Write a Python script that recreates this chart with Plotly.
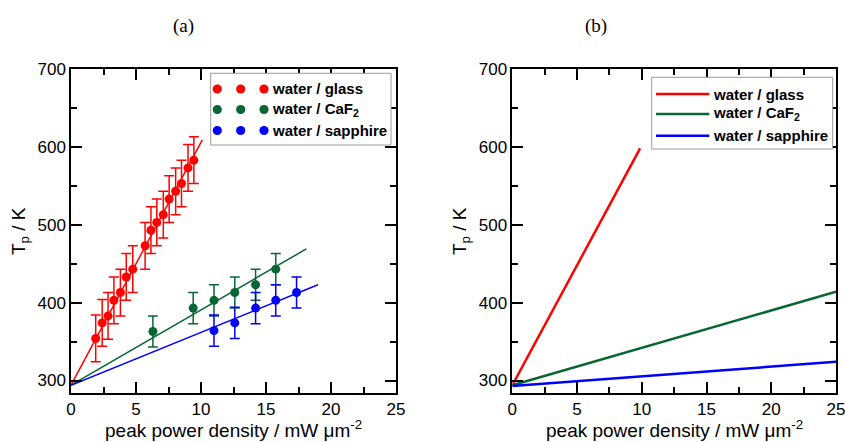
import plotly.graph_objects as go

W, H = 845, 442

# ---------------- data (panel a: measured points) ----------------
glass_x = [1.9, 2.4, 2.85, 3.3, 3.8, 4.25, 4.75, 5.7, 6.15, 6.6, 7.1, 7.55, 8.05, 8.5, 9.0, 9.45]
glass_T = [354, 374, 383, 403, 413, 433, 443, 473, 493, 503, 513, 533, 543, 553, 573, 583]
glass_err = [30] * len(glass_x)

caf2_x = [6.3, 9.4, 11.0, 12.6, 14.2, 15.75]
caf2_T = [363, 393, 403, 413, 423, 443]
caf2_err = [20] * len(caf2_x)

sapph_x = [11.0, 12.6, 14.2, 15.75, 17.35]
sapph_T = [364, 374, 393, 403, 413]
sapph_err = [20] * len(sapph_x)

# fit lines (panel a)
glass_fit_x = [0, 10.1]
glass_fit_T = [294, 609]
caf2_fit_x = [0, 18.1]
caf2_fit_T = [294, 469]
sapph_fit_x = [0, 19.0]
sapph_fit_T = [294, 423]

# ---------------- data (panel b: calculated lines) ----------------
glass_calc_x = [0, 9.87]
glass_calc_T = [294, 598]
caf2_calc_x = [0, 25]
caf2_calc_T = [294, 414]
sapph_calc_x = [0, 25]
sapph_calc_T = [293, 324]

labels = ["water / glass", "water / CaF<sub>2</sub>", "water / sapphire"]
x_ticks = [0, 5, 10, 15, 20, 25]
y_ticks = [300, 400, 500, 600, 700]

RED = "#ff0000"
GREEN = "#086633"
BLUE = "#0000ff"
colors = [RED, GREEN, BLUE]

FONT = "Arial, Liberation Sans, sans-serif"


def px(x):
    return x / W


def py(y):
    return 1 - y / H


fig = go.Figure()

# panel (a) fits
for fx, fy, c in [(glass_fit_x, glass_fit_T, RED), (caf2_fit_x, caf2_fit_T, GREEN), (sapph_fit_x, sapph_fit_T, BLUE)]:
    fig.add_trace(go.Scatter(x=fx, y=fy, mode="lines", line=dict(color=c, width=1.5),
                             xaxis="x", yaxis="y", showlegend=False, hoverinfo="skip"))

# panel (a) points
for dx, dy, de, c in [(glass_x, glass_T, glass_err, RED), (caf2_x, caf2_T, caf2_err, GREEN),
                      (sapph_x, sapph_T, sapph_err, BLUE)]:
    fig.add_trace(go.Scatter(x=dx, y=dy, mode="markers",
                             marker=dict(color=c, size=9),
                             error_y=dict(type="data", array=de, visible=True, color=c, thickness=1.5, width=5),
                             xaxis="x", yaxis="y", showlegend=False))

# panel (b) lines
for fx, fy, c in [(glass_calc_x, glass_calc_T, RED), (caf2_calc_x, caf2_calc_T, GREEN), (sapph_calc_x, sapph_calc_T, BLUE)]:
    fig.add_trace(go.Scatter(x=fx, y=fy, mode="lines", line=dict(color=c, width=2.5),
                             xaxis="x2", yaxis="y2", showlegend=False))

axis_common = dict(
    showline=True, linecolor="black", linewidth=1.5, mirror="ticks",
    ticks="inside", ticklen=11, tickwidth=1.5, tickcolor="black",
    showgrid=False, zeroline=False, automargin=False, ticklabeloverflow="allow",
    tickfont=dict(family=FONT, size=17, color="black"),
)

xa = dict(axis_common, range=[0, 25], tickvals=x_ticks,
          minor=dict(dtick=2.5, tick0=0, ticks="inside", ticklen=6, tickwidth=1.5, tickcolor="black", showgrid=False))
ya = dict(axis_common, range=[284, 700], tickvals=y_ticks,
          minor=dict(dtick=50, tick0=0, ticks="inside", ticklen=6, tickwidth=1.5, tickcolor="black", showgrid=False))

y_dom = [py(393), py(69)]

fig.update_layout(
    template="none",
    width=W, height=H, autosize=False,
    margin=dict(l=0, r=0, t=0, b=0, pad=0),
    paper_bgcolor="white", plot_bgcolor="white",
    xaxis=dict(xa, domain=[px(71), px(396)], anchor="y"),
    yaxis=dict(ya, domain=y_dom, anchor="x"),
    xaxis2=dict(xa, domain=[px(512.3), px(836)], anchor="y2"),
    yaxis2=dict(ya, domain=y_dom, anchor="x2"),
    showlegend=False,
)

ann = []
shapes = []


def txt(text, x, y, size, family=FONT, xanchor="center", angle=0):
    return dict(text=text, x=px(x), y=py(y), xref="paper", yref="paper", showarrow=False,
                xanchor=xanchor, yanchor="middle", textangle=angle,
                font=dict(family=family, size=size, color="black"))


# panel labels
SERIF = "Liberation Serif, Times New Roman, serif"
ann.append(txt("(a)", 183, 26, 19, SERIF))
ann.append(txt("(b)", 596, 26, 19, SERIF))

# axis titles
for cx in [233.5, 674]:
    ann.append(txt("peak power density / mW \u03bcm<sup>-2</sup>", cx, 429, 19))
for cx in [20, 461]:
    ann.append(txt("T<sub>p</sub> / K", cx, 231, 19, angle=-90))

# legend (a): three dots + label
shapes.append(dict(type="rect", xref="paper", yref="paper", x0=px(210.7), x1=px(391), y0=py(145), y1=py(73.3),
                   line=dict(color="#9a9a9a", width=1), fillcolor="white", layer="above"))
rows_a = [89, 109.5, 130.5]
for lab, c, ry in zip(labels, colors, rows_a):
    for dxp in [217.3, 240.7, 264]:
        r = 4.6
        shapes.append(dict(type="circle", xref="paper", yref="paper",
                           x0=px(dxp - r), x1=px(dxp + r), y0=py(ry + r), y1=py(ry - r),
                           fillcolor=c, line=dict(color=c, width=0), layer="above"))
    ann.append(txt("<b>" + lab + "</b>", 270, ry, 15, xanchor="left"))

# legend (b): line + label
shapes.append(dict(type="rect", xref="paper", yref="paper", x0=px(651.7), x1=px(832.7), y0=py(149), y1=py(77.3),
                   line=dict(color="#9a9a9a", width=1), fillcolor="white", layer="above"))
rows_b = [94, 114, 135.7]
for lab, c, ry in zip(labels, colors, rows_b):
    shapes.append(dict(type="line", xref="paper", yref="paper", x0=px(656), x1=px(709.3), y0=py(ry), y1=py(ry),
                       line=dict(color=c, width=2.5), layer="above"))
    ann.append(txt("<b>" + lab + "</b>", 711, ry, 15, xanchor="left"))

fig.update_layout(annotations=ann, shapes=shapes)

fig.write_html("out.html")
